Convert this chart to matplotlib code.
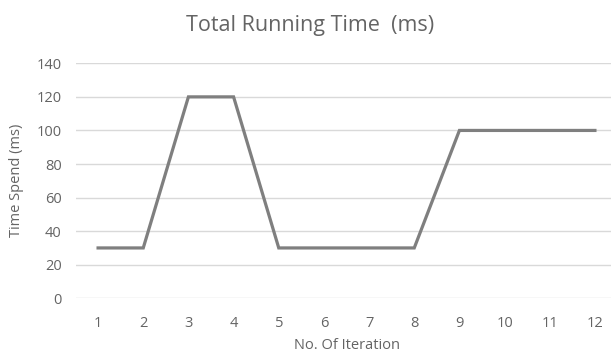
import matplotlib
matplotlib.use("Agg")
import matplotlib.pyplot as plt

iterations = ["1", "2", "3", "4", "5", "6", "7", "8", "9", "10", "11", "12"]
time_ms = [30, 30, 120, 120, 30, 30, 30, 30, 100, 100, 100, 100]
y_ticks = [0, 20, 40, 60, 80, 100, 120, 140]

plt.rcParams["font.family"] = ["Open Sans", "DejaVu Sans"]
text_color = "#646464"

fig = plt.figure(figsize=(6.11, 3.56), dpi=100)
ax = fig.add_axes([75.5 / 611, 57.7 / 356, (617.5 - 75.5) / 611, (292.7 - 57.7) / 356])

x = list(range(1, len(iterations) + 1))
ax.plot(x, time_ms, color="#7f7f7f", linewidth=2.3, solid_joinstyle="miter", zorder=3)

ax.set_xlim(0.5, len(iterations) + 0.5)
ax.set_ylim(0, 140)
ax.set_xticks(x)
ax.set_xticklabels(iterations)
ax.set_yticks(y_ticks)
ax.grid(axis="y", color="#d9d9d9", linewidth=1.0)
ax.set_axisbelow(True)
for s in ax.spines.values():
    s.set_visible(False)
ax.tick_params(length=0, colors=text_color, labelsize=10.5)
ax.tick_params(axis="y", pad=10)
ax.tick_params(axis="x", pad=13)

ax.set_xlabel("No. Of Iteration", color=text_color, fontsize=10.5, labelpad=5)
ax.set_ylabel("Time Spend (ms)", color=text_color, fontsize=10.5, labelpad=9)
fig.text(310 / 611, 1 - 26 / 356, "Total Running Time  (ms)", ha="center", va="center",
         color=text_color, fontsize=15.5)

fig.savefig("out.png", dpi=100)
